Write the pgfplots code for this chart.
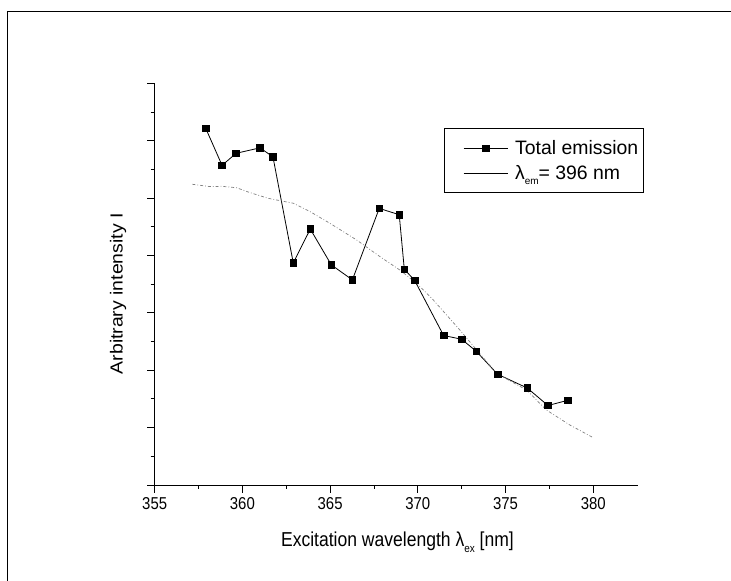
\documentclass[border=0pt]{standalone}
\usepackage{graphicx}
\usepackage{fontspec}
\setmainfont{Liberation Sans}
\usepackage{pgfplots}
\usepackage{pgfplotstable}
\pgfplotsset{compat=1.18}
\pgfplotsset{
  legA/.style={legend image code/.code={\path (0bp,0bp); \draw[mark repeat=2,mark phase=2,##1] plot coordinates {(16bp,0bp) (38bp,0bp) (60bp,0bp)};}},
  legB/.style={legend image code/.code={\path (0bp,0bp); \draw[black, solid, line width=0.6bp] (16bp,0bp) -- (60bp,0bp);}},
}

\pgfplotstableread{
x y
357.91 12.43
358.84 11.14
359.64 11.56
361.00 11.75
361.74 11.44
362.90 7.74
363.87 8.92
365.07 7.67
366.27 7.15
367.80 9.64
368.94 9.42
369.23 7.52
369.82 7.13
371.47 5.21
372.50 5.08
373.33 4.66
374.55 3.86
376.24 3.38
377.42 2.77
378.54 2.95
}\totaldata

\pgfplotstableread{
x y
357.15 10.48
358.15 10.40
358.82 10.41
359.67 10.36
360.43 10.19
361.48 9.99
362.90 9.82
363.85 9.53
364.99 9.12
366.51 8.54
367.84 7.96
368.98 7.49
369.93 7.03
370.88 6.45
372.40 5.40
373.35 4.71
374.49 3.89
376.20 3.31
377.34 2.61
378.67 2.09
380.00 1.65
}\emdata

\begin{document}
\begin{tikzpicture}
\useasboundingbox (0,0) rectangle (731bp,581bp);
\draw[line width=0.9bp] (7bp,0) -- (7bp,570bp) -- (731bp,570bp);
\begin{axis}[
  at={(154.7bp,96bp)}, anchor=south west,
  scale only axis, width=483.6bp, height=401.7bp,
  xmin=355, xmax=382.57, ymin=0, ymax=14,
  axis lines*=left,
  axis line style={line width=0.9bp},
  every tick/.style={black, line width=0.9bp},
  tick align=outside,
  major tick length=7.5bp, minor tick length=4bp,
  xtick={355,360,...,380}, minor x tick num=1,
  ytick={0,2,...,14}, minor y tick num=1,
  yticklabels={},
  /pgf/number format/assume math mode=true,
  xticklabel={\scalebox{1}[1.15]{\pgfmathprintnumber{\tick}}},
  xticklabel style={font=\fontsize{15}{18}\selectfont, yshift=-1bp},
  xlabel={\scalebox{1}[1.15]{Excitation wavelength λ\raisebox{-5bp}{\fontsize{10}{10}\selectfont ex} [nm]}},
  xlabel style={at={(axis description cs:0.502,-0.154)}, anchor=base, font=\fontsize{17.6}{20}\selectfont},
  ylabel={\scalebox{1}[0.9]{Arbitrary intensity I}},
  ylabel style={at={(axis description cs:-0.0755,0.476)}, anchor=center, font=\fontsize{19.5}{22}\selectfont},
  legend style={at={(rel axis cs:0.598,0.888)}, anchor=north west, draw=black, line width=0.8bp,
    inner xsep=3bp, inner ysep=10bp, font=\fontsize{19.5}{22}\selectfont,
    nodes={inner xsep=2bp, inner ysep=2bp}, row sep=5bp, column sep=5bp},
  legend cell align=left,
]
\addplot[black, line width=0.8bp, mark=square*, mark size=3.3bp, legA]
  table[x=x,y=y] {\totaldata};
\addlegendentry{Total emission}
\addplot[black!50, line width=0.7bp, dash pattern=on 3bp off 2bp on 0.8bp off 2bp, mark=none, legB]
  table[x=x,y=y] {\emdata};
\addlegendentry{λ\raisebox{-5bp}{\fontsize{10}{10}\selectfont em}= 396 nm}
\end{axis}
\end{tikzpicture}
\end{document}
